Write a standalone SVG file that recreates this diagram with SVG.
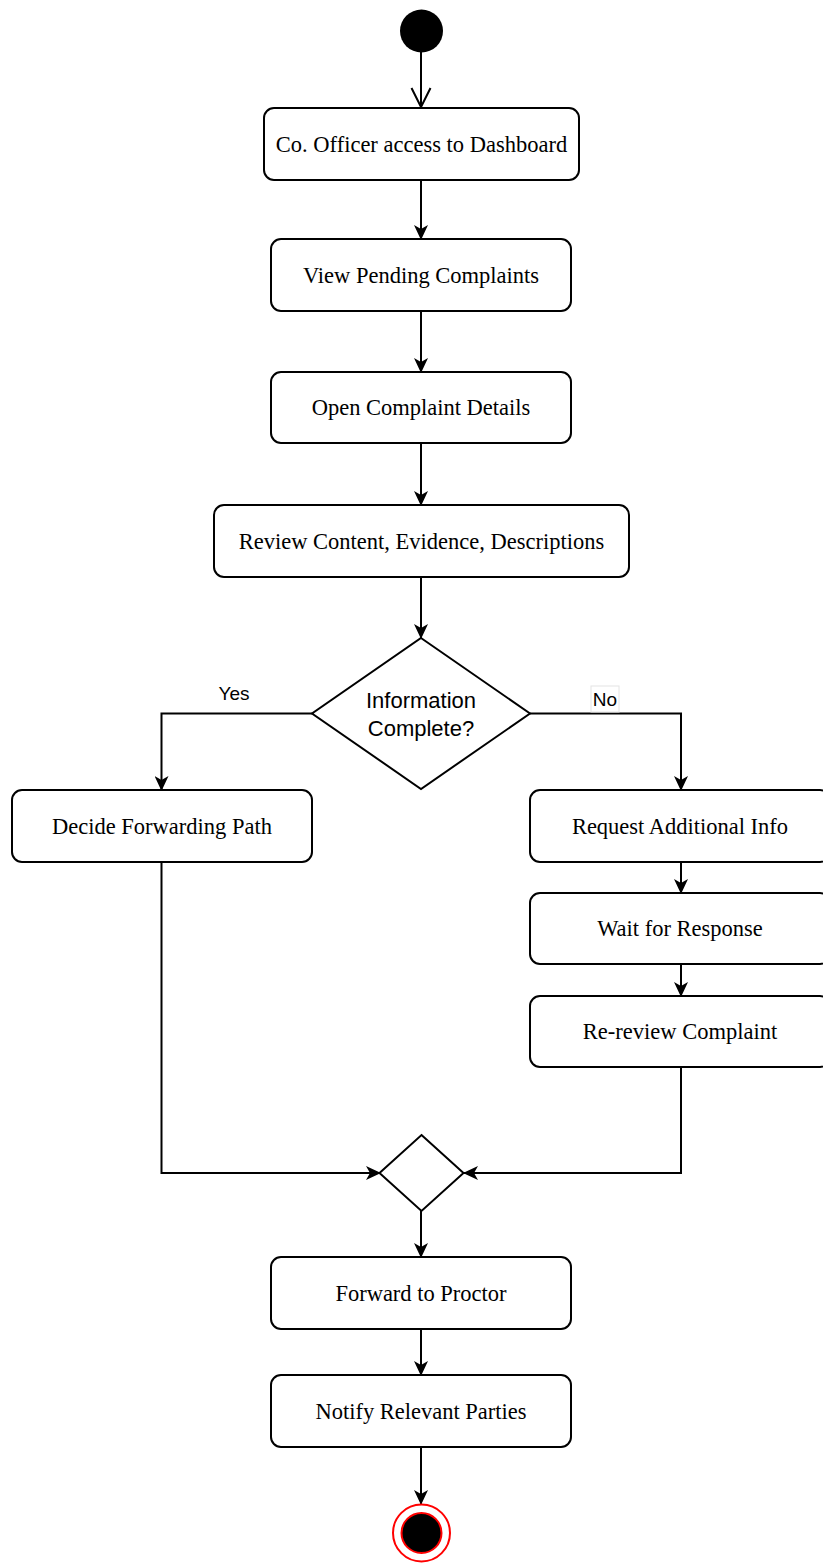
<svg xmlns="http://www.w3.org/2000/svg" width="823" height="1563" viewBox="0 0 823 1563">
  <style>
    .act { fill: #ffffff; stroke: #000000; stroke-width: 2; }
    .dec { fill: #ffffff; stroke: #000000; stroke-width: 2; }
    .lbl { font-family: "Liberation Serif", "Times New Roman", serif; font-size: 22.5px; fill: #000000; text-anchor: middle; }
    .sans { font-family: "Liberation Sans", Arial, sans-serif; fill: #000000; text-anchor: middle; }
    .edge { fill: none; stroke: #000000; stroke-width: 2; }
    .flow { marker-end: url(#block); }
  </style>
  <defs>
    <marker id="block" markerUnits="userSpaceOnUse" viewBox="0 0 15 14" markerWidth="15" markerHeight="14" refX="14" refY="7" orient="auto">
      <path d="M0,0 L15,7 L0,14 L4,7 Z" fill="#000000"/>
    </marker>
    <marker id="open" markerUnits="userSpaceOnUse" viewBox="-2 -2 24 24" markerWidth="24" markerHeight="24" refX="19" refY="9.5" orient="auto" overflow="visible">
      <path d="M0,0 L19,9.5 L0,19" fill="none" stroke="#000000" stroke-width="2"/>
    </marker>
  </defs>

  <rect width="823" height="1563" fill="#ffffff"/>

  <!-- connectors -->
  <g id="connectors">
    <path class="edge" d="M421,52 L421,107" marker-end="url(#open)"/>
    <path class="edge flow" d="M421,180 L421,239"/>
    <path class="edge flow" d="M421,311 L421,372"/>
    <path class="edge flow" d="M421,443 L421,505"/>
    <path class="edge flow" d="M421,577 L421,638"/>
    <path class="edge flow" d="M312,713.5 L161.5,713.5 L161.5,790"/>
    <path class="edge flow" d="M530,713.5 L681,713.5 L681,790"/>
    <path class="edge flow" d="M681,862 L681,893"/>
    <path class="edge flow" d="M681,964 L681,996"/>
    <path class="edge flow" d="M161.5,862 L161.5,1173 L380,1173"/>
    <path class="edge flow" d="M681,1067 L681,1173 L464,1173"/>
    <path class="edge flow" d="M421,1211 L421,1257"/>
    <path class="edge flow" d="M421,1329 L421,1375"/>
    <path class="edge flow" d="M421,1447 L421,1504"/>
    <text class="sans" x="234" y="700" font-size="19">Yes</text>
    <rect x="591" y="686" width="28" height="26" fill="#ffffff" stroke="#e4e4e4" stroke-width="1"/>
    <text class="sans" x="605" y="706" font-size="19">No</text>
  </g>

  <!-- start -->
  <g id="start">
    <circle cx="421.5" cy="31" r="21.5" fill="#000000"/>
  </g>

  <g id="access-dashboard">
    <rect class="act" x="264" y="108" width="315" height="72" rx="10"/>
    <text class="lbl" x="421.5" y="151.5">Co. Officer access to Dashboard</text>
  </g>

  <g id="view-pending">
    <rect class="act" x="271" y="239" width="300" height="72" rx="10"/>
    <text class="lbl" x="421" y="282.5">View Pending Complaints</text>
  </g>

  <g id="open-details">
    <rect class="act" x="271" y="372" width="300" height="71" rx="10"/>
    <text class="lbl" x="421" y="415">Open Complaint Details</text>
  </g>

  <g id="review-content">
    <rect class="act" x="214" y="505" width="415" height="72" rx="10"/>
    <text class="lbl" x="421.5" y="548.5">Review Content, Evidence, Descriptions</text>
  </g>

  <g id="info-complete">
    <polygon class="dec" points="421,638 530,713.5 421,789 312,713.5"/>
    <text class="sans" x="421" y="707.5" font-size="22">Information</text>
    <text class="sans" x="421" y="735.5" font-size="22">Complete?</text>
  </g>

  <g id="decide-path">
    <rect class="act" x="12" y="790" width="300" height="72" rx="10"/>
    <text class="lbl" x="162" y="833.5">Decide Forwarding Path</text>
  </g>

  <g id="request-info">
    <rect class="act" x="530" y="790" width="300" height="72" rx="10"/>
    <text class="lbl" x="680" y="833.5">Request Additional Info</text>
  </g>

  <g id="wait-response">
    <rect class="act" x="530" y="893" width="300" height="71" rx="10"/>
    <text class="lbl" x="680" y="936">Wait for Response</text>
  </g>

  <g id="re-review">
    <rect class="act" x="530" y="996" width="300" height="71" rx="10"/>
    <text class="lbl" x="680" y="1039">Re-review Complaint</text>
  </g>

  <g id="merge">
    <polygon class="dec" points="421.5,1135 463.5,1173 421.5,1211 379.5,1173"/>
  </g>

  <g id="forward-proctor">
    <rect class="act" x="271" y="1257" width="300" height="72" rx="10"/>
    <text class="lbl" x="421" y="1300.5">Forward to Proctor</text>
  </g>

  <g id="notify-parties">
    <rect class="act" x="271" y="1375" width="300" height="72" rx="10"/>
    <text class="lbl" x="421" y="1418.5">Notify Relevant Parties</text>
  </g>

  <!-- end -->
  <g id="end">
    <circle cx="421.5" cy="1533" r="28.5" fill="#ffffff" stroke="#ff0000" stroke-width="2"/>
    <circle cx="421.5" cy="1533" r="20" fill="#000000" stroke="#ff0000" stroke-width="2"/>
  </g>
</svg>
